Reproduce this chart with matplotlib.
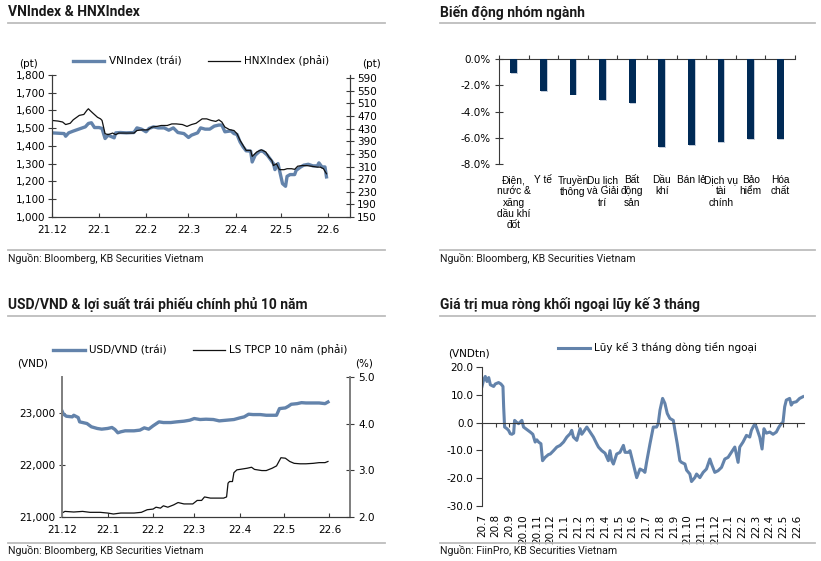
import numpy as np
import matplotlib
matplotlib.use("Agg")
import matplotlib.pyplot as plt
from matplotlib.lines import Line2D
from matplotlib.ticker import FuncFormatter
import matplotlib.patheffects as pe

plt.rcParams['font.family'] = ['DejaVu Sans']
plt.rcParams['font.size'] = 7.5

W, H = 821, 561
BLUE = '#6383ab'
NAVY = '#002a56'
TXT = '#1a1a1a'
TFONT = ['Roboto', 'DejaVu Sans']

# ---------------- Data ----------------
month_ticks_1 = [0, 31, 62, 90, 121, 151, 182]
month_labels_1 = ['21.12', '22.1', '22.2', '22.3', '22.4', '22.5', '22.6']

vn_days = [0, 8, 9, 11, 14, 19, 22, 24, 26, 28, 31, 33, 34, 35, 37, 41, 42, 45, 49, 54, 56, 59, 62, 64,
           67, 70, 74, 77, 80, 83, 87, 90, 92, 96, 98, 101, 104, 107, 110, 112, 114, 118, 120, 122, 124,
           126, 128, 131, 132, 134, 137, 139, 142, 144, 146, 147, 149, 152, 154, 155, 157, 160, 161, 164,
           166, 169, 172, 175, 176, 178, 180, 181]
vnindex = [1474, 1470, 1455, 1474, 1484, 1499, 1508, 1527, 1531, 1504, 1504, 1499, 1470, 1442, 1461, 1446,
           1474, 1476, 1474, 1476, 1502, 1495, 1480, 1499, 1508, 1502, 1502, 1489, 1502, 1476, 1470, 1448,
           1461, 1474, 1502, 1495, 1495, 1512, 1518, 1518, 1480, 1485, 1470, 1465, 1423, 1395, 1373, 1371,
           1310, 1348, 1371, 1371, 1348, 1325, 1301, 1267, 1301, 1188, 1173, 1229, 1239, 1239, 1263, 1282,
           1292, 1297, 1288, 1288, 1305, 1282, 1282, 1226]

hnx_days = [0, 4, 7, 9, 12, 14, 18, 21, 23, 24, 25, 27, 30, 32, 33, 35, 37, 40, 42, 44, 47, 54, 56, 59,
            63, 66, 69, 72, 76, 79, 82, 86, 89, 92, 95, 99, 102, 105, 108, 110, 112, 114, 117, 120, 122,
            124, 126, 128, 131, 132, 135, 138, 141, 143, 145, 146, 148, 150, 153, 155, 158, 160, 162, 165,
            168, 171, 175, 177, 179, 181]
hnxindex = [456, 454, 451, 443, 447, 458, 472, 475, 488, 493, 488, 479, 466, 461, 456, 414, 411, 416, 411,
            416, 416, 416, 424, 426, 426, 435, 437, 440, 440, 445, 445, 443, 437, 443, 447, 461, 461, 456,
            453, 458, 451, 435, 427, 424, 414, 393, 377, 361, 361, 342, 356, 363, 356, 340, 329, 313, 319,
            300, 300, 303, 303, 301, 311, 313, 313, 311, 308, 308, 303, 287]

sectors = ['Điện,\nnước &\nxăng\ndầu khí\nđốt', 'Y tế', 'Truyền\nthông', 'Du lịch\nvà Giải\ntrí',
           'Bất\nđộng\nsản', 'Dầu\nkhí', 'Bán lẻ', 'Dịch vụ\ntài\nchính', 'Bảo\nhiểm', 'Hóa\nchất']
sector_change = [-1.06, -2.43, -2.71, -3.14, -3.34, -6.68, -6.56, -6.35, -6.13, -6.13]

usd_days = [0, 1, 3, 7, 8, 11, 12, 15, 17, 20, 24, 27, 31, 34, 36, 38, 40, 43, 49, 53, 56, 59, 62, 66,
            69, 74, 78, 83, 87, 90, 94, 98, 103, 107, 112, 117, 121, 124, 127, 130, 135, 139, 143, 146,
            148, 152, 154, 156, 160, 163, 166, 171, 175, 179, 181]
usdvnd = [23038, 22975, 22936, 22924, 22955, 22911, 22828, 22809, 22796, 22733, 22701, 22688, 22701,
          22720, 22682, 22618, 22637, 22656, 22656, 22669, 22713, 22688, 22752, 22828, 22815, 22815,
          22828, 22841, 22860, 22892, 22873, 22879, 22873, 22847, 22860, 22873, 22904, 22924, 22975,
          22968, 22968, 22955, 22955, 22955, 23083, 23096, 23127, 23166, 23178, 23197, 23191, 23191,
          23191, 23178, 23210]

bond_days = [0, 2, 8, 14, 19, 26, 31, 35, 40, 49, 54, 58, 62, 64, 67, 69, 72, 76, 79, 83, 86, 89, 92,
             95, 97, 101, 105, 110, 112, 113, 114, 116, 117, 119, 121, 126, 129, 131, 136, 139, 143, 146,
             149, 152, 155, 158, 162, 166, 171, 175, 179, 181]
bond10y = [2.085, 2.12, 2.107, 2.12, 2.10, 2.10, 2.085, 2.064, 2.085, 2.085, 2.10, 2.156, 2.17, 2.21,
           2.19, 2.24, 2.21, 2.26, 2.31, 2.28, 2.28, 2.28, 2.355, 2.355, 2.43, 2.405, 2.405, 2.405, 2.43,
           2.725, 2.76, 2.76, 2.95, 3.01, 3.02, 3.045, 3.066, 3.02, 2.995, 2.995, 3.045, 3.095, 3.27,
           3.26, 3.19, 3.15, 3.14, 3.14, 3.15, 3.165, 3.165, 3.19]

flow_labels = ['20.7', '20.8', '20.9', '20.10', '20.11', '20.12', '21.1', '21.2', '21.3', '21.4', '21.5',
               '21.6', '21.7', '21.8', '21.9', '21.10', '21.11', '21.12', '22.1', '22.2', '22.3', '22.4',
               '22.5', '22.6']
flow_month = [0.00, 0.12, 0.24, 0.36, 0.49, 0.61, 0.85, 0.97, 1.21, 1.38, 1.53, 1.58, 1.65, 1.82, 1.94,
              2.06, 2.18, 2.31, 2.38, 2.50, 2.67, 2.79, 2.91, 3.03, 3.28, 3.52, 3.71, 3.88, 4.00, 4.13,
              4.30, 4.42, 4.61, 4.85, 4.98, 5.22, 5.46, 5.70, 5.95, 6.19, 6.43, 6.55, 6.67, 6.92, 7.04,
              7.16, 7.28, 7.40, 7.65, 7.89, 8.13, 8.37, 8.50, 8.74, 8.98, 9.22, 9.34, 9.47, 9.59, 9.83,
              10.07, 10.32, 10.44, 10.68, 10.80, 11.04, 11.29, 11.53, 11.77, 11.89, 12.01, 12.26, 12.50,
              12.74, 12.86, 12.99, 13.18, 13.35, 13.52, 13.71, 13.96, 14.08, 14.25, 14.44, 14.56, 14.81,
              14.93, 15.17, 15.29, 15.53, 15.66, 15.90, 16.14, 16.38, 16.63, 16.75, 16.99, 17.23, 17.48,
              17.72, 17.96, 18.20, 18.45, 18.69, 18.81, 19.05, 19.30, 19.54, 19.66, 19.78, 19.90, 20.02,
              20.27, 20.44, 20.58, 20.75, 21.00, 21.24, 21.48, 21.67, 21.84, 21.97, 22.09, 22.21, 22.45,
              22.57, 22.69, 22.94, 23.18, 23.42]
flow_value = [13.0, 15.4, 16.6, 14.8, 16.2, 13.6, 13.0, 13.9, 14.4, 13.9, 13.0, 5.7, -1.6, -2.2, -2.8,
              -4.0, -4.2, -3.8, 0.8, 0.2, -0.4, 0.2, 0.8, -1.6, -2.5, -3.4, -4.2, -7.0, -6.2, -7.0, -7.6,
              -13.7, -12.5, -11.5, -11.3, -10.1, -8.8, -8.2, -7.0, -5.2, -4.0, -2.8, -5.2, -6.4, -4.2,
              -2.2, -4.2, -3.4, -1.6, -3.4, -5.2, -7.6, -8.8, -10.1, -11.0, -13.7, -10.1, -13.7, -14.9,
              -11.3, -10.7, -8.2, -10.7, -10.7, -10.1, -14.9, -19.8, -16.7, -17.3, -17.9, -14.3, -7.6,
              -1.6, -1.6, -0.4, 4.5, 8.7, 6.9, 3.3, 1.5, 0.8, -2.8, -7.6, -13.7, -14.3, -14.9, -17.1,
              -18.5, -21.2, -19.8, -18.5, -19.8, -17.9, -16.7, -13.1, -14.9, -17.9, -17.3, -16.1, -13.1,
              -12.5, -10.7, -8.8, -14.3, -8.8, -7.0, -4.6, -5.2, -2.8, -1.6, -0.6, -1.6, -5.2, -9.5, -2.2,
              -3.8, -3.4, -4.2, -3.4, -1.6, -0.4, 0.2, 5.7, 8.1, 8.7, 6.3, 7.2, 7.5, 8.7, 9.3]


def fx(px):
    return px / W


def fy(py):
    return 1 - py / H


def box(l, t, r, b):
    return [fx(l), fy(b), (r - l) / W, (b - t) / H]


fig = plt.figure(figsize=(W / 100, H / 100), dpi=100)
fig.patch.set_facecolor('white')


def header(x0, x1, ytitle, yline1, yline2, ysrc, title, src):
    fig.text(fx(x0), fy(ytitle), title, fontsize=10, fontweight='bold', family=TFONT,
             color=TXT, va='center', ha='left')
    for yl in (yline1, yline2):
        fig.add_artist(Line2D([fx(x0), fx(x1)], [fy(yl), fy(yl)], color='#bdbdbd', lw=1.3,
                              transform=fig.transFigure))
    fig.text(fx(x0), fy(ysrc), src, fontsize=7.6, family=TFONT, color=TXT, va='center', ha='left')


header(8, 385, 12, 23, 250, 258, 'VNIndex & HNXIndex', 'Nguồn: Bloomberg, KB Securities Vietnam')
header(440, 815, 12, 23, 250, 258, 'Biến động nhóm ngành', 'Nguồn: Bloomberg, KB Securities Vietnam')
header(8, 385, 305, 316, 543, 551, 'USD/VND & lợi suất trái phiếu chính phủ 10 năm',
       'Nguồn: Bloomberg, KB Securities Vietnam')
header(440, 815, 305, 316, 543, 551, 'Giá trị mua ròng khối ngoại lũy kế 3 tháng',
       'Nguồn: FiinPro, KB Securities Vietnam')

SP = '#3a3a3a'

# ---------------- Panel 1 ----------------
ax1 = fig.add_axes(box(52, 75, 350, 217))
ax1b = ax1.twinx()
l1, = ax1.plot(vn_days, vnindex, color=BLUE, lw=2.4, label='VNIndex (trái)')
l2, = ax1b.plot(hnx_days, hnxindex, color='#111111', lw=0.9, label='HNXIndex (phải)')
ax1.set_xlim(0, 196.5)
ax1.set_ylim(1000, 1800)
ax1b.set_ylim(150, 600)
ax1.set_yticks(range(1000, 1801, 100))
ax1.yaxis.set_major_formatter(FuncFormatter(lambda v, p: f'{int(v):,}'))
ax1b.set_yticks(range(150, 591, 40))
ax1.set_xticks(month_ticks_1)
ax1.set_xticklabels(month_labels_1)
for a in (ax1, ax1b):
    a.spines['top'].set_visible(False)
    for s in ('left', 'right', 'bottom'):
        a.spines[s].set_color(SP)
        a.spines[s].set_linewidth(0.8)
ax1.tick_params(axis='y', direction='inout', length=6, width=0.8, color=SP, pad=2, labelsize=7.5)
ax1b.tick_params(axis='y', direction='inout', length=6, width=0.8, color=SP, pad=2, labelsize=7.5)
ax1.tick_params(axis='x', direction='in', length=3, width=0.8, color=SP, pad=6, labelsize=7.5)
ax1.legend(handles=[l1, l2], loc='center', bbox_to_anchor=(0.5, 1.1), ncol=2, frameon=False,
           handlelength=3.0, handletextpad=0.4, columnspacing=2.6, fontsize=7.5, borderaxespad=0)
fig.text(fx(28), fy(64), '(pt)', ha='center', va='center', fontsize=7.5)
fig.text(fx(371), fy(64), '(pt)', ha='center', va='center', fontsize=7.5)

# ---------------- Panel 2 ----------------
ax2 = fig.add_axes(box(499, 59, 795, 164))
xpos = np.arange(len(sectors))
bars = ax2.bar(xpos, sector_change, width=0.23, color=NAVY, zorder=3)
for b in bars:
    b.set_path_effects([pe.SimplePatchShadow(offset=(0.6, -0.6), shadow_rgbFace='#c3ccda', alpha=1.0),
                        pe.Normal()])
ax2.set_xlim(-0.5, len(sectors) - 0.5)
ax2.set_ylim(-8, 0)
ax2.set_yticks([0, -2, -4, -6, -8])
ax2.yaxis.set_major_formatter(FuncFormatter(lambda v, p: f'{v:.1f}%'))
ax2.spines['right'].set_visible(False)
ax2.spines['bottom'].set_visible(False)
for s in ('left', 'top'):
    ax2.spines[s].set_color(SP)
    ax2.spines[s].set_linewidth(0.8)
ax2.set_xticks(xpos)
ax2.set_xticklabels(sectors, linespacing=1.15, va='top', family=['Liberation Sans', 'DejaVu Sans'],
                    fontsize=7.3)
ax2.set_xticks(np.arange(-0.5, len(sectors)), minor=True)
ax2.tick_params(axis='x', which='major', bottom=True, top=False, length=0, pad=8)
ax2.tick_params(axis='x', which='minor', bottom=False, top=True, direction='out', length=3,
                width=0.8, color=SP)
ax2.tick_params(axis='y', direction='inout', length=6, width=0.8, color=SP, pad=3, labelsize=7.5)

# ---------------- Panel 3 ----------------
GR = '#808080'
ax3 = fig.add_axes(box(62, 377, 350, 517))
ax3b = ax3.twinx()
l3, = ax3.plot(usd_days, usdvnd, color=BLUE, lw=2.4, label='USD/VND (trái)')
l4, = ax3b.plot(bond_days, bond10y, color='#111111', lw=0.9, label='LS TPCP 10 năm (phải)')
ax3.set_xlim(0, 196)
ax3.set_ylim(21000, 23690)
ax3b.set_ylim(2.0, 5.0)
ax3.set_yticks([21000, 22000, 23000])
ax3.yaxis.set_major_formatter(FuncFormatter(lambda v, p: f'{int(v):,}'))
ax3b.set_yticks([2.0, 3.0, 4.0, 5.0])
ax3b.yaxis.set_major_formatter(FuncFormatter(lambda v, p: f'{v:.1f}'))
ax3.set_xticks(month_ticks_1)
ax3.set_xticklabels(month_labels_1)
for a in (ax3, ax3b):
    a.spines['top'].set_visible(False)
    a.spines['left'].set_color(GR)
    a.spines['left'].set_linewidth(1.3)
    a.spines['right'].set_color(GR)
    a.spines['right'].set_linewidth(1.3)
    a.spines['bottom'].set_color(SP)
    a.spines['bottom'].set_linewidth(0.8)
ax3.tick_params(axis='y', direction='inout', length=5, width=0.8, color=SP, pad=2, labelsize=7.5)
ax3b.tick_params(axis='y', direction='inout', length=6, width=0.8, color=SP, pad=3, labelsize=7.5)
ax3.tick_params(axis='x', direction='in', length=3, width=0.8, color=SP, pad=6, labelsize=7.5)
ax3.legend(handles=[l3, l4], loc='center', bbox_to_anchor=(0.48, 1.193), ncol=2, frameon=False,
           handlelength=3.0, handletextpad=0.4, columnspacing=2.6, fontsize=7.5, borderaxespad=0)
fig.text(fx(33), fy(363), '(VND)', ha='center', va='center', fontsize=7.5)
fig.text(fx(364), fy(363), '(%)', ha='center', va='center', fontsize=7.5)

# ---------------- Panel 4 ----------------
ax4 = fig.add_axes(box(482, 367, 804, 506))
l5, = ax4.plot(flow_month, flow_value, color=BLUE, lw=2.2, label='Lũy kế 3 tháng dòng tiền ngoại')
ax4.set_xlim(0, 23.5)
ax4.set_ylim(-30, 20)
ax4.set_yticks([20, 10, 0, -10, -20, -30])
ax4.yaxis.set_major_formatter(FuncFormatter(lambda v, p: f'{v:.1f}'))
ax4.spines['top'].set_visible(False)
ax4.spines['right'].set_visible(False)
ax4.spines['bottom'].set_position(('data', 0))
for s in ('left', 'bottom'):
    ax4.spines[s].set_color(SP)
    ax4.spines[s].set_linewidth(0.8)
mpos = np.arange(len(flow_labels))
ax4.set_xticks(mpos)
ax4.tick_params(axis='x', labelbottom=False, direction='out', length=3, width=0.8, color=SP)
ax4.tick_params(axis='y', direction='out', length=4, width=0.8, color=SP, pad=2, labelsize=7.5)
sec = ax4.secondary_xaxis('bottom')
sec.set_xticks(mpos)
sec.set_xticklabels(flow_labels, rotation=90, va='top', ha='center')
sec.tick_params(length=0, pad=6, labelsize=7.5)
sec.spines['bottom'].set_visible(False)
ax4.legend(handles=[l5], loc='center', bbox_to_anchor=(0.545, 1.137), frameon=False,
           handlelength=3.0, handletextpad=0.4, fontsize=7.5, borderaxespad=0)
fig.text(fx(469), fy(354), '(VNDtn)', ha='center', va='center', fontsize=7.5)

fig.savefig('out.png', dpi=100, facecolor='white')
